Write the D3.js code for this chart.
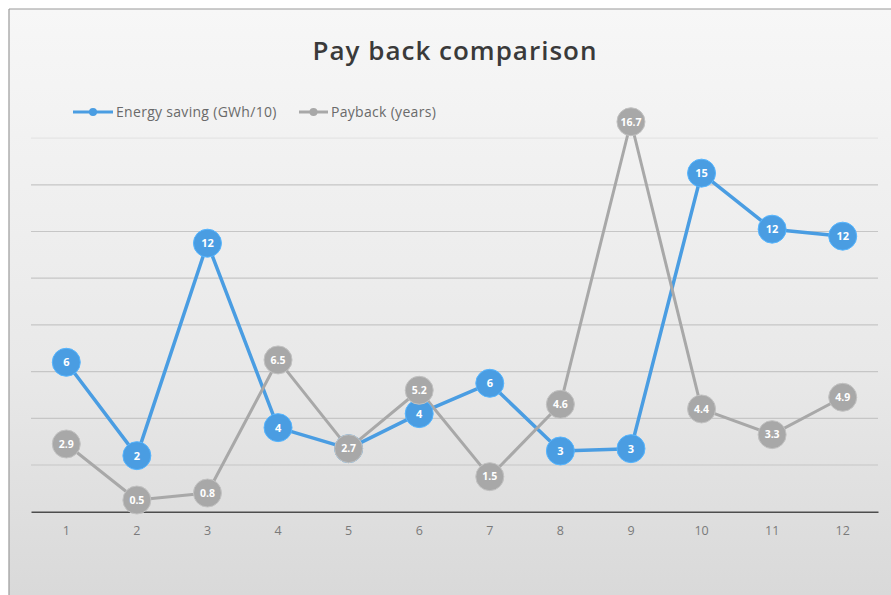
<!DOCTYPE html>
<html>
<head>
<meta charset="utf-8">
<script src="https://cdn.jsdelivr.net/npm/d3@7"></script>
<style>
  html, body { margin: 0; padding: 0; background: #ffffff; }
  svg { display: block; }
</style>
</head>
<body>
<svg id="chart" width="891" height="595"></svg>
<script>
// ---- data ----
const categories = ["1","2","3","4","5","6","7","8","9","10","11","12"];
const energySaving = [6.4, 2.4, 11.5, 3.6, 2.7, 4.2, 5.5, 2.6, 2.7, 14.5, 12.1, 11.8];
const payback = [2.9, 0.5, 0.8, 6.5, 2.7, 5.2, 1.5, 4.6, 16.7, 4.4, 3.3, 4.9];
const gridValues = [2, 4, 6, 8, 10, 12, 14, 16];
const seriesNames = ["Energy saving (GWh/10)", "Payback (years)"];
const titleText = "Pay back comparison";

const svg = d3.select("#chart");
const W = 891, H = 595;

// background
const defs = svg.append("defs");
const grad = defs.append("linearGradient").attr("id", "bg").attr("x1", 0).attr("y1", 0).attr("x2", 0).attr("y2", 1);
grad.append("stop").attr("offset", "0%").attr("stop-color", "#f7f7f7");
grad.append("stop").attr("offset", "60%").attr("stop-color", "#e9e9e9");
grad.append("stop").attr("offset", "100%").attr("stop-color", "#d9d9d9");

svg.append("rect").attr("x", 0).attr("y", 0).attr("width", W).attr("height", H).attr("fill", "#ffffff");
svg.append("rect").attr("x", 9).attr("y", 9).attr("width", W - 9).attr("height", H - 9).attr("fill", "url(#bg)");
svg.append("line").attr("x1", 9).attr("x2", 9).attr("y1", 9).attr("y2", H).attr("stroke", "#9a9a9a").attr("stroke-width", 1.2);
svg.append("line").attr("x1", 9).attr("x2", W).attr("y1", 9).attr("y2", 9).attr("stroke", "#9a9a9a").attr("stroke-width", 1.2);

// scales
const x = d3.scaleBand().domain(categories).range([31, 878]).padding(0);
const cx = d => x(d) + x.bandwidth() / 2;
const y = d3.scaleLinear().domain([0, 16]).range([511.7, 138.1]);

// gridlines
svg.append("g").selectAll("line").data(gridValues).join("line")
  .attr("x1", 31).attr("x2", 878)
  .attr("y1", d => y(d)).attr("y2", d => y(d))
  .attr("stroke", d => d === 16 ? "#e4e4e4" : "#c6c6c6")
  .attr("stroke-width", 1.2);

// x axis
const xAxis = d3.axisBottom(x).tickSize(0).tickPadding(14);
const gx = svg.append("g").attr("transform", `translate(0,${y(0)})`).call(xAxis);
gx.select(".domain").attr("stroke", "#4d4d4d").attr("stroke-width", 1.6);
gx.selectAll("text").attr("font-family", "Open Sans, sans-serif").attr("font-size", 12.5).attr("fill", "#7a7a7a");

// title
svg.append("text").attr("x", 455).attr("y", 60).attr("text-anchor", "middle")
  .attr("font-family", "Open Sans, sans-serif").attr("font-weight", 600).attr("font-size", 26)
  .attr("letter-spacing", 1).attr("fill", "#3a3a3a").text(titleText);

// colors
const blue = "#4a9de2";
const gray = "#a8a8a8";

// legend
const legend = [
  { name: seriesNames[0], color: blue, x1: 73, x2: 113, tx: 116 },
  { name: seriesNames[1], color: gray, x1: 299, x2: 328, tx: 331 }
];
const lg = svg.append("g");
legend.forEach(l => {
  lg.append("line").attr("x1", l.x1).attr("x2", l.x2).attr("y1", 112).attr("y2", 112)
    .attr("stroke", l.color).attr("stroke-width", 3);
  lg.append("circle").attr("cx", (l.x1 + l.x2) / 2).attr("cy", 112).attr("r", 4).attr("fill", l.color);
  lg.append("text").attr("x", l.tx).attr("y", 117)
    .attr("font-family", "Open Sans, sans-serif").attr("font-size", 14).attr("letter-spacing", 0.3)
    .attr("fill", "#6a6a6a").text(l.name);
});

// lines
const line = d3.line().x((d, i) => cx(categories[i])).y(d => y(d));
svg.append("path").datum(energySaving).attr("d", line).attr("fill", "none")
  .attr("stroke", blue).attr("stroke-width", 3.5).attr("stroke-linejoin", "round");
svg.append("path").datum(payback).attr("d", line).attr("fill", "none")
  .attr("stroke", gray).attr("stroke-width", 3).attr("stroke-linejoin", "round");

const fmtE = d3.format(".0f");
const fmtP = d3.format(".1f");

function markers(data, color, fmt, fs) {
  const g = svg.append("g");
  const pts = g.selectAll("g").data(data).join("g")
    .attr("transform", (d, i) => `translate(${cx(categories[i])},${y(d)})`);
  pts.append("circle").attr("r", 14).attr("fill", color)
    .attr("stroke", d3.color(color).brighter(0.4)).attr("stroke-width", 1);
  pts.append("text").attr("text-anchor", "middle").attr("dy", "0.36em")
    .attr("font-family", "Open Sans, sans-serif").attr("font-weight", 700).attr("font-size", fs)
    .attr("fill", "#ffffff").text(d => fmt(d));
}
markers(energySaving, blue, fmtE, 11);
markers(payback, gray, fmtP, 10.5);
</script>
</body>
</html>
